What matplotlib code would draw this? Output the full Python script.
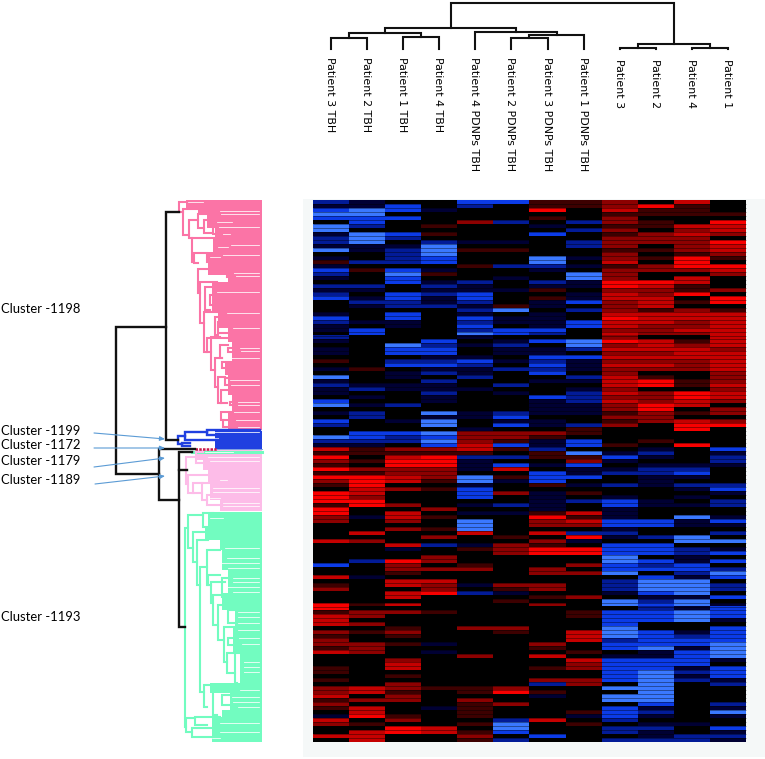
import numpy as np
import matplotlib
matplotlib.use("Agg")
import matplotlib.pyplot as plt
from matplotlib.colors import LinearSegmentedColormap

plt.rcParams['font.family'] = ['DejaVu Sans']

# ---------- data ----------
COLUMN_LABELS = ["Patient 3 TBH", "Patient 2 TBH", "Patient 1 TBH", "Patient 4 TBH",
                 "Patient 4 PDNPs TBH", "Patient 2 PDNPs TBH", "Patient 3 PDNPs TBH", "Patient 1 PDNPs TBH",
                 "Patient 3", "Patient 2", "Patient 4", "Patient 1"]
CLUSTER_LABELS = ["Cluster -1198", "Cluster -1199", "Cluster -1172", "Cluster -1179", "Cluster -1189", "Cluster -1193"]
CLUSTER_LABEL_Y = [309, 431, 445, 461, 480, 617]

# heat levels per row, one string per column: a b c d = blue, weak to strong; 1 2 3 4 = red, weak to strong; . = none
C01 = ("bacdc.ddab" "bad.a1acba" ".babc...ac" "baa.ba.aa." "1.a.dabaa." "cd.a.cb..d" "ba31421414"
       "21.4441442" "2....3...." ".c..3.12.." ".441333.21" "2213...11." "1.223121.a" "32..3.")
C02 = ("aaddccb.dd" "daa..b.1.." ".ba.aba..." "a.cc......" "..1...ab.a" ".a.bb...cc" "ba11.1.214"
       "4433244..a" "...3.2...." "b...a....." ".1.22.2.1." ".222......" "..33.2.334" ".1.333")
C03 = (".cc.c...cb" ".abbbb.cdc" "c..ccbb.cc" "aa....dcc." "bc.aa.aa.." ".b...a..cb" "b.21344223"
       "3.2...2.33" "2.2...3a.." "4221.33.33" ".3.2...121" ".1...233.1" ".22122...1" "2.44..")
C04 = ("..a...1.1." "bdddcc.a1." "ababaab..." ".....cbcca" "bcab.baaba" "a..dadd.dc" "dc21444222"
       "1.1....2.1" "..1.2.b..2" "2.2..3224." "...1......" ".a.a......" "..1....a.." "..33..")
C05 = ("cb...2...." "a.1...1..." "baaccbabac" "bcbda.a..a" "cbaab..a.." "...aa..a22" "2331baaa.d"
       "daccc.a.a." "ddd3..a1.." ".12...a.b." ".......2.." "....2....." "..11.21111" ".1.121")
C06 = ("c....b...." "a.1...b..a" "..a...1d.a" "a.cc.abaa." "a.b...b.a." "...bcac.22" "1c1.b.c3.1"
       "a..2..b.a." "....1.222." "......21a." "1......21." ".........." "..24..2..." "bddc.b")
C07 = ("114.1.a.c." "....ddba.." "ba1.1aa.aa" "aacb.c.aac" "bcbc.a...c" "aaaa.aa.21" "aab11.a.cc"
       "c1.aaaaa14" "22.3.2144." "..22..22.1" ".2........" ".21.3..1.." "2b.1a....." "3...c.")
C08 = ("11...b.b.." "bb..a.a.dd" "aa.aac.b.." "cc...ddb.c" "aaa.ba.abb" "baaa..b11." "cc.d12caac"
       ".a.1.b..31" "32.b4a.44." ".2.2.....2" "...11...33" "3..1.322.." "22......1a" ".1....")
C09 = ("2231221212" "2212231222" "4423322234" "3323242323" "2322333232" "3221212..." ".1.aca.ab."
       ".b..accaaa" "ccaba.cccd" "dccd.bbba." "dd.ccccddd" "bcc.accccc" "c.d.dd.ccc" "b.bb.b")
C10 = (".411.11.22" "2.1.1.22.." "4322333133" "3222.33323" "232.144.22" "244222...." "1.aba.abba"
       "aa...aa..." "cc..b.ccc." "cbc.cdddca" "bcbccc..cc" "ccdaacccdd" "ddddddcaba" ".abaab")
C11 = ("3111..3232" "22214442.3" "3114.1.233" "2232.12333" "222..11.44" "33.1.344.." ".4....abca"
       ".ba.a.a..d" "aa..dd.bba" "accbadddda" "ddaddd..ab" "ccaccccaba" "b........." ".a..bb")
C12 = ("...1.4332." "43321.432." "..2.44.133" "3333333233" "3332223233" "2.22.24..." "..cabba..."
       ".bca.bb..a" "ca.b.d.ac." "c.bdc.bb.c" ".accca.ccc" "cdddda.ccc" "ab....bada" "..caba")
COLUMNS = [C01, C02, C03, C04, C05, C06, C07, C08, C09, C10, C11, C12]
LEVELS = {'d': -4, 'c': -3, 'b': -2, 'a': -1, '.': 0, '1': 1, '2': 2, '3': 3, '4': 4}

# top dendrogram: nested (merge height, left, right); leaves are column numbers
TOP_TREE = (2.7,
            (27.7,
             (32.7, (37.7, 0, 1), (36.7, 2, 3)),
             (32.0, 4, (35.0, (37.7, 5, 6), 7))),
            (44.3, (47.7, 8, 9), (47.7, 10, 11)))

# left dendrogram brackets in crop units of the image: (x, y0, y1, end0, end1)
PINK_BRACKETS = [(237, 22, 50, 258, 248), (248, 42, 120, 295, 268), (268, 75, 130, 295, 275), (295, 58, 100, 320, 312),
                 (312, 75, 115, 330, 340), (330, 42, 60, 360, 360), (340, 95, 118, 355, 365), (275, 130, 200, 350, 282),
                 (282, 175, 205, 320, 293), (320, 180, 200, 365, 340), (293, 222, 295, 380, 300), (380, 235, 245, 400, 405),
                 (300, 262, 385, 350, 312), (315, 275, 345, 350, 330), (330, 300, 330, 370, 360),
                 (312, 350, 470, 380, 320), (345, 365, 420, 380, 355), (355, 380, 415, 400, 380),
                 (320, 428, 470, 385, 332), (332, 425, 525, 360, 345), (360, 450, 490, 385, 365), (385, 460, 470, 415, 420),
                 (345, 490, 575, 365, 355), (365, 500, 520, 395, 395), (355, 545, 625, 375, 362), (375, 550, 570, 390, 390),
                 (362, 585, 625, 390, 380), (390, 620, 630, 410, 410), (362, 650, 675, 400, 370), (370, 675, 695, 405, 410)]
PINK_FILL = [(15, 258), (40, 295), (60, 320), (100, 345), (130, 340), (170, 325), (240, 385), (260, 335),
             (350, 355), (400, 385), (440, 395), (500, 375), (540, 385), (600, 395), (650, 385), (705, 385)]
PINK_GAPS = [(22, 265, 310), (48, 360, 478), (58, 360, 478), (80, 350, 395), (95, 355, 478), (118, 365, 390),
             (150, 392, 478), (155, 355, 385), (180, 365, 478), (185, 330, 360), (235, 400, 478), (243, 405, 478),
             (290, 350, 478), (355, 380, 478), (400, 400, 478), (460, 420, 478), (468, 415, 478), (490, 365, 478),
             (555, 390, 478), (570, 390, 478), (620, 410, 478), (630, 410, 478), (650, 400, 478), (675, 405, 478), (695, 410, 478)]

BLUE_BRACKETS = [(235, 722, 748, 255, 245), (255, 712, 735, 320, 350), (320, 705, 720, 480, 345), (245, 745, 752, 270, 270)]
BLUE_FILL = [(708, 345), (762, 345)]
BLUE_GAPS = [(712, 340, 478), (728, 262, 355), (748, 250, 270)]

# light-pink cluster, crop units counted from the lower crop (negative = above it)
LPINK_BRACKETS = [(258, -40, 42, 288, 265), (288, -55, -20, 310, 320), (265, 15, 68, 330, 280),
                  (280, 40, 68, 305, 305), (305, 40, 90, 330, 320), (320, 75, 105, 360, 370)]
LPINK_FILL = [(-60, 290), (-30, 310), (0, 325), (40, 330), (90, 360), (122, 360)]
LPINK_GAPS = [(-55, 315, 400), (-40, 325, 478), (-28, 330, 478), (30, 360, 380), (55, 340, 478), (65, 340, 478),
              (85, 330, 360), (100, 370, 478), (108, 370, 478)]

GREEN_BRACKETS = [(255, 175, 770, 265, 258), (265, 135, 235, 308, 278), (308, 130, 170, 340, 320), (278, 185, 275, 320, 290),
                  (290, 210, 345, 325, 300), (300, 290, 665, 320, 312), (320, 240, 345, 360, 325), (325, 315, 345, 360, 332),
                  (332, 335, 400, 375, 340), (365, 325, 380, 395, 375), (340, 375, 465, 375, 355), (355, 405, 510, 385, 372),
                  (385, 420, 460, 415, 405), (372, 470, 575, 410, 380), (385, 505, 525, 415, 420), (380, 550, 610, 405, 405),
                  (405, 550, 640, 430, 410), (430, 570, 625, 478, 478), (312, 645, 710, 340, 322), (340, 660, 735, 365, 350),
                  (365, 675, 705, 395, 415), (258, 745, 785, 285, 275), (285, 742, 765, 360, 320), (275, 775, 800, 350, 335)]
GREEN_FILL = [(125, 325), (170, 315), (210, 360), (240, 365), (300, 385), (370, 365), (420, 405), (470, 400),
              (550, 420), (640, 330), (670, 390), (720, 365), (740, 335), (815, 335)]
GREEN_GAPS = [(145, 330, 370), (235, 375, 478), (265, 380, 478), (280, 345, 478), (295, 385, 478), (325, 400, 478),
              (335, 400, 478), (352, 380, 478), (365, 400, 478), (425, 415, 478), (440, 415, 478), (460, 415, 478),
              (480, 415, 478), (505, 415, 478), (522, 425, 478), (575, 430, 478), (590, 430, 478), (605, 430, 478),
              (620, 430, 478), (660, 420, 478), (680, 395, 478), (695, 400, 478), (712, 415, 478), (760, 360, 478),
              (785, 360, 478), (805, 335, 360)]

# ---------- drawing ----------
for i, c in enumerate(COLUMNS):
    assert len(c) == 136, (i, len(c))
heat = np.array([[LEVELS[ch] for ch in c] for c in COLUMNS], dtype=float).T

fig = plt.figure(figsize=(7.65, 7.59), dpi=100)
ax = fig.add_axes([0, 0, 1, 1])
ax.set_xlim(0, 765)
ax.set_ylim(759, 0)
ax.axis('off')

ax.fill_between([303, 765], 199, 757, color='#f5f8f8', lw=0, zorder=0)
cmap = LinearSegmentedColormap.from_list('hm', ['#3a78ff', '#0c3ce8', '#031c98', '#000034', '#000000',
                                                '#3c0000', '#8c0000', '#c40000', '#f80000'])
ax.imshow(heat, cmap=cmap, vmin=-4, vmax=4, extent=(313, 746, 742, 200), aspect='auto',
          interpolation='nearest', zorder=1)
ax.set_xlim(0, 765)
ax.set_ylim(759, 0)

# fine dark banding between rows, as in the source raster
row_edges = np.linspace(200, 742, heat.shape[0] + 1)
ax.hlines(row_edges[1:-1], 313, 746, color='black', lw=0.6, alpha=0.45, zorder=1.5)

X0, COLW = 313.0, 433.0 / 12

def draw_top(node):
    if not isinstance(node, tuple):
        return X0 + (node + 0.5) * COLW, 48.5
    h, a, b = node
    xa, ya = draw_top(a)
    xb, yb = draw_top(b)
    ax.plot([xa, xa, xb, xb], [ya, h, h, yb], color='#111111', lw=1.5, solid_joinstyle='miter', zorder=3)
    return (xa + xb) / 2, h

draw_top(TOP_TREE)

for i, lab in enumerate(COLUMN_LABELS):
    ytop = 57 if i < 8 else 59
    ax.text(X0 + (i + 0.5) * COLW - 1, ytop, lab, rotation=270, ha='center', va='top', fontsize=7.9,
            color='#000000', zorder=4)

UP_Y, LOW_Y = 195.0, 470.0
def sx(x):
    return 100 + x / 3.0
def sy_up(y):
    return UP_Y + y / 3.0
def sy_low(y):
    return LOW_Y + y / 3.0

def draw_cluster(brackets, fill, gaps, col, sy, lw=1.5):
    ys = [sy(p[0]) for p in fill]
    xs = [sx(p[1]) for p in fill]
    ax.fill_betweenx(ys, xs, 262, step='post', color=col, lw=0, zorder=2)
    for y, a, b in gaps:
        ax.plot([sx(a), sx(b)], [sy(y)] * 2, color='white', lw=0.55, zorder=2.2)
    for x, y0, y1, e0, e1 in brackets:
        ax.plot([sx(e0), sx(x), sx(x), sx(e1)], [sy(y0), sy(y0), sy(y1), sy(y1)],
                color=col, lw=lw, solid_joinstyle='miter', zorder=2.5)

PINK, BLUE, LPINK, GREEN = '#fb74a6', '#2040e0', '#fdbce8', '#72fcc0'
draw_cluster(PINK_BRACKETS, PINK_FILL, PINK_GAPS, PINK, sy_up)
draw_cluster(BLUE_BRACKETS, BLUE_FILL, BLUE_GAPS, BLUE, sy_up, lw=1.7)
draw_cluster(LPINK_BRACKETS, LPINK_FILL, LPINK_GAPS, LPINK, sy_low)
draw_cluster(GREEN_BRACKETS, GREEN_FILL, GREEN_GAPS, GREEN, sy_low)

# small red and green clusters between the blue and light-pink ones
ax.plot([195, 217], [449, 449], color='#c8184a', lw=1.8, ls=(0, (1, 0.5)), zorder=3)
ax.plot([217, 262], [449, 449], color='#7fa0e0', lw=0.7, zorder=3)
ax.plot([192, 262], [451.5, 451.5], color=GREEN, lw=2.2, zorder=2)

# black upper brackets
def black(xs, ys):
    ax.plot(xs, ys, color='#111111', lw=1.7, solid_joinstyle='miter', zorder=3)

black([179, 166, 166, 178], [211.7, 211.7, 440, 440])
black([166, 115.7, 115.7, 159], [326.5, 326.5, 474, 474])
black([195, 159, 159, 179], [449, 449, 500, 500])
black([192, 179, 179, 185], [451.5, 451.5, 626.5, 626.5])
black([179, 187], [470, 470])

# labels and arrows
for lab, y in zip(CLUSTER_LABELS, CLUSTER_LABEL_Y):
    ax.text(1.5, y, lab, ha='left', va='center', fontsize=9.4, family='Lato', color='#000000', zorder=5)

ARROW_FROM = [(94, 433), (94, 448), (94, 467), (95, 484)]
ARROW_TO = [(165, 439), (165, 448), (165, 458), (165, 476)]
for p, q in zip(ARROW_FROM, ARROW_TO):
    ax.annotate('', xy=q, xytext=p, zorder=5,
                arrowprops=dict(arrowstyle='-|>,head_length=0.3,head_width=0.13', color='#5b9bd5', lw=0.8,
                                shrinkA=0, shrinkB=0))

fig.savefig('out.png', dpi=100, facecolor='white')
